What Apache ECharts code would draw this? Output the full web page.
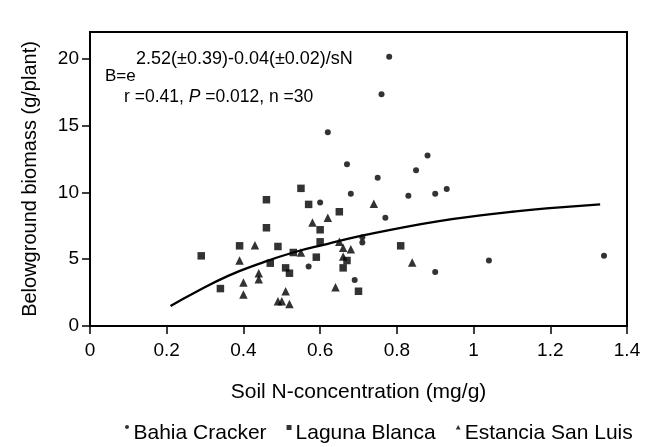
<!DOCTYPE html>
<html lang="en">
<head>
    <meta charset="UTF-8">
    <script src="https://cdn.jsdelivr.net/npm/echarts@6/dist/echarts.min.js"></script>
    <title>Belowground biomass</title>
    <style>
        html, body { margin: 0; padding: 0; background: #fff; }
        #main { width: 646px; height: 447px; }
    </style>
</head>
<body>
<div id="main"></div>
<script>
    // [soil N (mg/g), belowground biomass (g/plant)]
    var bahiaCracker = [
        [0.62, 14.5], [0.78, 20.15], [0.76, 17.35], [0.67, 12.1], [0.88, 12.75],
        [0.85, 11.65], [0.75, 11.1], [0.68, 9.9], [0.83, 9.75], [0.90, 9.9],
        [0.93, 10.25], [0.77, 8.1], [0.71, 6.65], [0.71, 6.25], [0.90, 4.05],
        [1.04, 4.9], [0.69, 3.45], [1.34, 5.25], [0.60, 9.25], [0.57, 4.45]
    ];
    var lagunaBlanca = [
        [0.55, 10.3], [0.46, 9.45], [0.57, 9.1], [0.65, 8.55], [0.46, 7.35],
        [0.60, 7.2], [0.60, 6.3], [0.39, 6.0], [0.49, 5.95], [0.29, 5.25],
        [0.53, 5.5], [0.59, 5.15], [0.47, 4.7], [0.51, 4.35], [0.52, 3.95],
        [0.34, 2.8], [0.81, 6.0], [0.67, 4.9], [0.66, 4.35], [0.70, 2.6]
    ];
    var estanciaSanLuis = [
        [0.58, 7.75], [0.62, 8.1], [0.43, 6.05], [0.39, 4.9], [0.55, 5.5],
        [0.44, 3.95], [0.44, 3.5], [0.40, 3.25], [0.40, 2.35], [0.51, 2.6],
        [0.49, 1.85], [0.50, 1.85], [0.52, 1.65], [0.64, 2.9], [0.74, 9.15],
        [0.66, 5.85], [0.68, 5.75], [0.66, 5.2], [0.84, 4.75], [0.65, 6.3]
    ];
    // fitted curve
    var fitCurve = [
        [0.21, 1.5], [0.27, 2.45], [0.36, 3.75], [0.44, 4.65], [0.53, 5.5],
        [0.62, 6.15], [0.70, 6.7], [0.78, 7.18], [0.91, 7.85], [1.04, 8.35],
        [1.10, 8.55], [1.19, 8.8], [1.33, 9.1]
    ];
    var yTicks = [0, 5, 10, 15, 20];

    var font = 'Liberation Sans, Arial, sans-serif';

    var myChart = echarts.init(document.getElementById('main'));

    var option = {
        animation: false,
        textStyle: { fontFamily: font, color: '#000' },
        grid: {
            left: 90, right: 19, top: 32, bottom: 121,
            show: true,
            borderColor: '#000',
            borderWidth: 2
        },
        legend: {
            left: 120,
            top: 418,
            itemGap: 20,
            itemWidth: 5,
            itemHeight: 17,
            textStyle: { fontSize: 21, color: '#000', fontFamily: font, padding: [0, 0, 0, -1] },
            data: [
                { name: 'Bahia Cracker', icon: 'path://M2,0C3.1,0 4,0.9 4,2C4,3.1 3.1,4 2,4C0.9,4 0,3.1 0,2C0,0.9 0.9,0 2,0Z M2,16.9L2.01,17' },
                { name: 'Laguna Blanca', icon: 'path://M0,0L5,0L5,5L0,5Z M2.5,16.9L2.51,17' },
                { name: 'Estancia San Luis', icon: 'path://M2.5,0L5,4.5L0,4.5Z M2.5,16.9L2.51,17' }
            ]
        },
        xAxis: {
            type: 'value',
            min: 0,
            max: 1.4,
            interval: 0.2,
            name: 'Soil N-concentration (mg/g)',
            nameLocation: 'middle',
            nameGap: 56,
            nameTextStyle: { fontSize: 21, color: '#000', fontFamily: font },
            axisLine: { lineStyle: { color: '#000', width: 2 } },
            axisTick: { inside: false, length: 8, lineStyle: { color: '#000', width: 1.5 } },
            axisLabel: { fontSize: 19, color: '#000', margin: 15, fontFamily: font },
            splitLine: { show: false }
        },
        yAxis: {
            type: 'value',
            min: 0,
            max: 22,
            interval: 5,
            name: 'Belowground biomass (g/plant)',
            nameLocation: 'middle',
            nameGap: 50,
            nameRotate: 90,
            nameTextStyle: { fontSize: 20, color: '#000', fontFamily: font },
            axisLine: { lineStyle: { color: '#000', width: 2 } },
            axisTick: { inside: false, length: 8, customValues: yTicks, lineStyle: { color: '#000', width: 1.5 } },
            axisLabel: { fontSize: 19, color: '#000', margin: 11, customValues: yTicks, fontFamily: font },
            splitLine: { show: false }
        },
        graphic: [
            {
                type: 'text', left: 105, top: 68,
                style: { text: 'B=e', fontSize: 17, fontFamily: font, fill: '#000' }
            },
            {
                type: 'text', left: 136, top: 50,
                style: { text: '2.52(±0.39)-0.04(±0.02)/sN', fontSize: 18, fontFamily: font, fill: '#000' }
            },
            {
                type: 'text', left: 124, top: 88,
                style: {
                    text: '{a|r =0.41, }{i|P}{a| =0.012, n =30}',
                    rich: {
                        a: { fontSize: 17.5, fontFamily: font, fill: '#000' },
                        i: { fontSize: 17.5, fontFamily: font, fontStyle: 'italic', fill: '#000' }
                    }
                }
            }
        ],
        series: [
            {
                name: 'Bahia Cracker',
                type: 'scatter',
                symbol: 'circle',
                symbolSize: 6,
                itemStyle: { color: '#000' },
                data: bahiaCracker
            },
            {
                name: 'Laguna Blanca',
                type: 'scatter',
                symbol: 'rect',
                symbolSize: 7.5,
                itemStyle: { color: '#000' },
                data: lagunaBlanca
            },
            {
                name: 'Estancia San Luis',
                type: 'scatter',
                symbol: 'triangle',
                symbolSize: 8.5,
                itemStyle: { color: '#000' },
                data: estanciaSanLuis
            },
            {
                name: 'fit',
                type: 'line',
                smooth: true,
                showSymbol: false,
                silent: true,
                lineStyle: { color: '#000', width: 2.3 },
                data: fitCurve
            }
        ]
    };

    myChart.setOption(option);
</script>
</body>
</html>
